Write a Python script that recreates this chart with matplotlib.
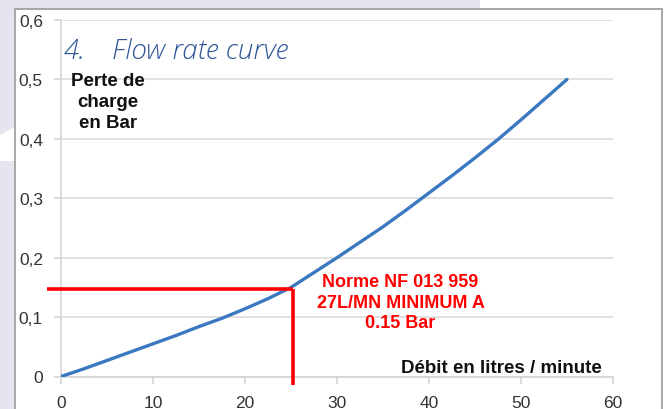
import numpy as np
import matplotlib.pyplot as plt
from matplotlib.patches import Rectangle, Polygon
from matplotlib.ticker import FuncFormatter

# Data
debit = [0, 2.5, 5, 7.5, 10, 12.5, 15, 17.5, 20, 22.5, 25, 27.5,
         30, 32.5, 35, 37.5, 40, 42.5, 45, 47.5, 50, 52.5, 55]
perte = [0, 0.013, 0.027, 0.041, 0.055, 0.069, 0.084, 0.098, 0.114, 0.131, 0.150, 0.175,
         0.200, 0.226, 0.252, 0.280, 0.309, 0.338, 0.368, 0.399, 0.432, 0.466, 0.500]
norm_flow = 25.2
norm_loss = 0.147
norm_start = -1.5
norm_bottom = -0.014
x_ticks = [0, 10, 20, 30, 40, 50, 60]
y_ticks = [0, 0.1, 0.2, 0.3, 0.4, 0.5, 0.6]

W, H = 664, 410
fig = plt.figure(figsize=(W / 100, H / 100), dpi=100)
fig.patch.set_facecolor('white')

lav = '#e4e5ef'
def px(x, y):
    return (x / W, 1 - y / H)

# page background pieces
fig.patches.append(Rectangle(px(0, 10), 480 / W, 10 / H, transform=fig.transFigure,
                             facecolor=lav, edgecolor='none', zorder=0))
fig.patches.append(Rectangle(px(0, H), 15 / W, 1, transform=fig.transFigure,
                             facecolor=lav, edgecolor='none', zorder=0))
fig.patches.append(Polygon([px(0, 136), px(15, 128), px(15, 162), px(0, 162)],
                           closed=True, transform=fig.transFigure,
                           facecolor='white', edgecolor='none', zorder=0))
# chart border
fig.patches.append(Rectangle(px(15, H + 5), 647 / W, (H + 5 - 10) / H,
                             transform=fig.transFigure, facecolor='none',
                             edgecolor='#9a9a9a', lw=1.2, zorder=1))

x0, x1 = 61, 613
y0, y1 = 377.5, 21
ax = fig.add_axes([x0 / W, 1 - y0 / H, (x1 - x0) / W, (y0 - y1) / H])
ax.set_facecolor('none')
ax.set_xlim(0, 60)
ax.set_ylim(0, 0.6)

for s in ['top', 'right']:
    ax.spines[s].set_visible(False)
for s in ['left', 'bottom']:
    ax.spines[s].set_color('#d4d4d4')
    ax.spines[s].set_linewidth(1.2)

ax.set_xticks(x_ticks)
ax.set_yticks(y_ticks)
ax.yaxis.set_major_formatter(FuncFormatter(
    lambda v, p: '0' if abs(v) < 1e-9 else ('%.1f' % v).replace('.', ',')))
ax.tick_params(axis='both', direction='out', length=5, width=1.2, color='#d4d4d4',
               labelsize=12.5, labelcolor='#333333')
ax.tick_params(axis='x', pad=8)
ax.tick_params(axis='y', pad=8)
for lab in ax.get_xticklabels() + ax.get_yticklabels():
    lab.set_family('Liberation Sans')

ax.grid(axis='y', color='#dcdcdc', lw=1.2)
ax.set_axisbelow(True)

ax.plot(debit, perte, color='#3a78c0', lw=2.4, solid_capstyle='round', zorder=3)

# norm lines
ax.plot([norm_start, norm_flow], [norm_loss, norm_loss], color='#ff0000', lw=2.6,
        clip_on=False, zorder=4, solid_capstyle='butt')
ax.plot([norm_flow, norm_flow], [norm_loss, norm_bottom], color='#ff0000', lw=2.6,
        clip_on=False, zorder=4, solid_capstyle='butt')

ax.text(36.9, 0.125, 'Norme NF 013 959\n27L/MN MINIMUM A\n0.15 Bar', color='#ff0000',
        fontsize=13, fontweight='bold', family='Liberation Sans', ha='center',
        va='center', linespacing=1.25)
ax.text(5.1, 0.463, 'Perte de\ncharge\nen Bar', color='#111111', fontsize=13.5,
        fontweight='bold', family='Liberation Sans', ha='center', va='center',
        linespacing=1.28)
ax.text(58.8, 0.0145, 'Débit en litres / minute', color='#111111', fontsize=13.5,
        fontweight='bold', family='Liberation Sans', ha='right', va='center')

title_kw = dict(color='#2f5597', fontsize=20, style='italic', family='Open Sans',
                fontweight='light', transform=fig.transFigure, va='baseline')
fig.text(64 / W, 1 - 59 / H, '4.', **title_kw)
fig.text(112 / W, 1 - 59 / H, 'Flow rate curve', **title_kw)

fig.savefig('out.png', dpi=100)
